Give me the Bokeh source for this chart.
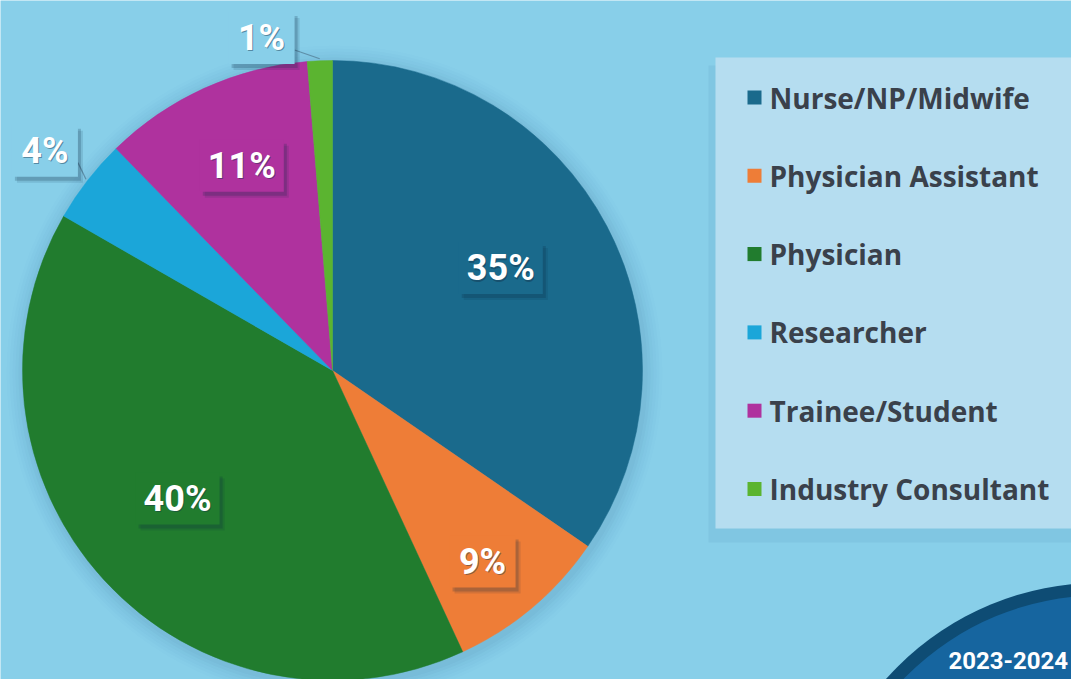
import math
from bokeh.plotting import figure
from bokeh.models import Range1d, ColumnDataSource
from bokeh.core.properties import value
from bokeh.embed import file_html
from bokeh.resources import INLINE

# ---------------- data ----------------
categories = ["Nurse/NP/Midwife", "Physician Assistant", "Physician",
              "Researcher", "Trainee/Student", "Industry Consultant"]
shares = [34.6, 8.5, 40.2, 4.4, 11.0, 1.3]
pct_labels = ["35%", "9%", "40%", "4%", "11%", "1%"]
colors = ["#1a6a8c", "#ee7d37", "#217c2e", "#1ba6d9", "#af329e", "#5bb430"]
badge_text = "2023-2024"

# ---------------- layout / style ----------------
W, H = 1071, 679
BG = "#88cfe9"
CX, CY, R = 332, H - 370, 310
label_r = [197, 243, 201, 362, 224, 340]
label_shift_deg = [3.6, -2.0, -2.9, 0.4, -0.6, 9.7]
label_inside = [True, True, True, False, True, False]

p = figure(width=W, height=H, output_backend="svg", toolbar_location=None,
           x_range=Range1d(0, W), y_range=Range1d(0, H), min_border=0,
           background_fill_color=BG, border_fill_color=BG, outline_line_color=None)
p.axis.visible = False
p.grid.visible = False

# soft pie shadow
for k, a in enumerate([0.035, 0.03, 0.025, 0.02, 0.015, 0.01]):
    p.circle(x=[CX + 2], y=[CY - 3], radius=R + 3 + 3 * k, fill_color="#1d4f8a",
             fill_alpha=a, line_color=None)

# wedges
total = sum(shares)
starts, ends, mids = [], [], []
acc = 0.0
for v in shares:
    s = math.pi / 2 - 2 * math.pi * acc / total
    acc += v
    e = math.pi / 2 - 2 * math.pi * acc / total
    starts.append(s); ends.append(e); mids.append((s + e) / 2)

src = ColumnDataSource(dict(x=[CX] * len(shares), y=[CY] * len(shares),
                            start=starts, end=ends, color=colors, cat=categories))
p.wedge(x="x", y="y", radius=R, start_angle="start", end_angle="end",
        direction="clock", fill_color="color", line_color="color", line_width=0.5,
        source=src)

# labels with boxes
for i, lab in enumerate(pct_labels):
    ang = mids[i] + math.radians(label_shift_deg[i])
    lx = CX + label_r[i] * math.cos(ang)
    ly = CY + label_r[i] * math.sin(ang)
    bw = 84 if len(lab) == 3 else 66
    bh = 52
    if label_inside[i]:
        box_col = colors[i]
    else:
        box_col = BG
        ex = CX + (R + 2) * math.cos(mids[i])
        ey = CY + (R + 2) * math.sin(mids[i])
        sx = lx + bw / 2 * (1 if ex > lx else -1)
        p.line(x=[sx, ex], y=[ly - 12, ey], line_color="#5e8fa8", line_width=1.2)
    p.rect(x=[lx + 5], y=[ly - 6], width=bw, height=bh, fill_color="#0b2a40",
           fill_alpha=0.12, line_color=None)
    p.rect(x=[lx + 3], y=[ly - 4], width=bw, height=bh, fill_color="#0b2a40",
           fill_alpha=0.2, line_color=None)
    p.rect(x=[lx], y=[ly], width=bw, height=bh, fill_color=box_col,
           line_color=None)
    p.text(x=[lx + 1], y=[ly - 1.5], text=[lab], text_align="center",
           text_baseline="middle", text_font=value("Roboto"),
           text_font_style="bold", text_font_size="36px", text_color="#14324a",
           text_alpha=0.45)
    p.text(x=[lx], y=[ly], text=[lab], text_align="center",
           text_baseline="middle", text_font=value("Roboto"),
           text_font_style="bold", text_font_size="36px", text_color="#ffffff")

# legend panel
LX0, LX1, LY0, LY1 = 715, 1090, H - 528, H - 57
p.quad(left=[LX0 - 7], right=[LX1], bottom=[LY0 - 14], top=[LY1 - 8],
       fill_color="#80c6e2", line_color=None)
p.quad(left=[LX0], right=[LX1], bottom=[LY0], top=[LY1],
       fill_color="#b5ddf0", line_color=None)
row0, step = 97, 78.3
leg_y = [H - (row0 + step * i) for i in range(len(categories))]
p.rect(x=[754] * len(categories), y=leg_y, width=14, height=14,
       fill_color=colors, line_color=None)
p.text(x=[769] * len(categories), y=leg_y, text=categories,
       text_baseline="middle", text_align="left", text_font=value("Open Sans"),
       text_font_style="bold", text_font_size="28px", text_color="#3a414b")

# partial dark circle badge bottom-right
p.circle(x=[1100], y=[H - 869], radius=287, fill_color="#0e4c74", line_color=None)
p.circle(x=[1100], y=[H - 869], radius=274, fill_color="#16659f", line_color=None)
p.text(x=[948], y=[H - 660], text=[badge_text], text_baseline="middle",
       text_align="left", text_font=value("Roboto"), text_font_style="bold",
       text_font_size="24px", text_color="#ffffff")

open("out.html", "w").write(file_html(p, INLINE))
